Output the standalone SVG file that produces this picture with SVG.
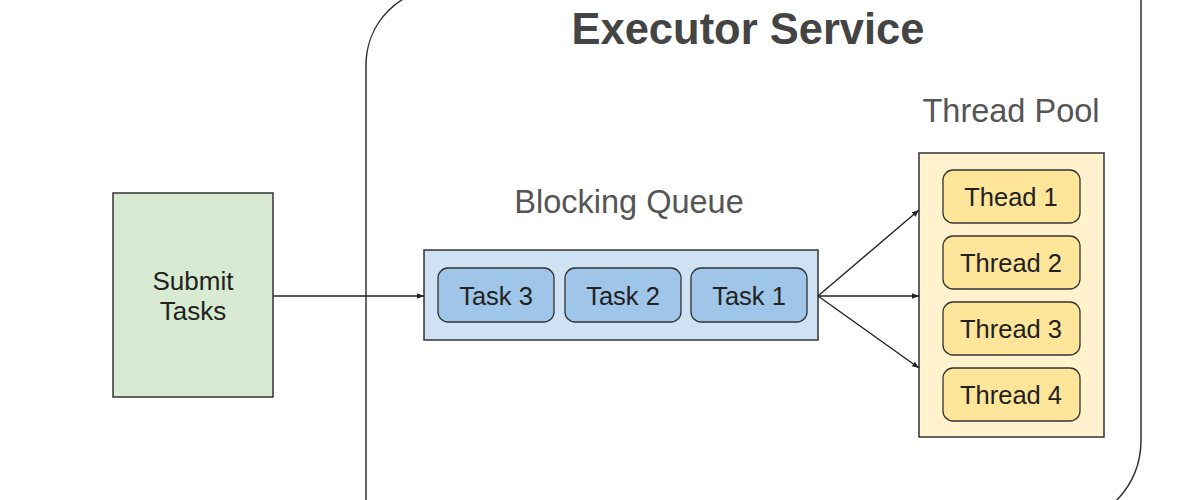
<svg xmlns="http://www.w3.org/2000/svg" width="1200" height="500" viewBox="0 0 1200 500">
<style>
text{font-family:"Liberation Sans",Arial,sans-serif;text-anchor:middle}
.lbl{font-size:25.5px;fill:#222}
.hdr{font-size:32.5px;fill:#555}
.box{stroke:#333;stroke-width:1.5}
.task{fill:#9fc5e8;stroke:#333;stroke-width:1.3}
.thr{fill:#ffe599;stroke:#333;stroke-width:1.3}
.conn{stroke:#222;stroke-width:1.4;fill:none;marker-end:url(#ah)}
</style>
<defs>
<marker id="ah" viewBox="0 0 10 10" refX="10" refY="5" markerWidth="7" markerHeight="7" markerUnits="userSpaceOnUse" orient="auto">
<path d="M0,1 L10,5 L0,9 z" fill="#222"/>
</marker>
</defs>
<rect width="1200" height="500" fill="#fff"/>
<g id="executor">
<path d="M366,510 V65 A77,77 0 0 1 443,-12 H1141 V440 A87,87 0 0 1 1117,500 L1110,510" fill="none" stroke="#333" stroke-width="1.5"/>
<text x="748" y="44" style="font-size:43.5px;font-weight:bold;fill:#444">Executor Service</text>
</g>
<g id="submit">
<rect class="box" x="113" y="193" width="160" height="204" fill="#d9ead3"/>
<text class="lbl" x="193" y="290" style="font-size:26px">Submit</text>
<text class="lbl" x="193" y="320" style="font-size:26px">Tasks</text>
</g>
<g id="queue">
<text class="hdr" x="629" y="213">Blocking Queue</text>
<rect class="box" x="424" y="250" width="394" height="90" fill="#cfe2f3"/>
<g id="task3"><rect class="task" x="438" y="268" width="116" height="54" rx="10"/><text class="lbl" x="496" y="305">Task 3</text></g>
<g id="task2"><rect class="task" x="565" y="268" width="116" height="54" rx="10"/><text class="lbl" x="623" y="305">Task 2</text></g>
<g id="task1"><rect class="task" x="691" y="268" width="116" height="54" rx="10"/><text class="lbl" x="749" y="305">Task 1</text></g>
</g>
<g id="pool">
<text class="hdr" x="1011" y="122">Thread Pool</text>
<rect class="box" x="919" y="153" width="185" height="284" fill="#fff2cc"/>
<g id="thread1"><rect class="thr" x="943" y="170" width="137" height="53" rx="10"/><text class="lbl" x="1011" y="206">Thead 1</text></g>
<g id="thread2"><rect class="thr" x="943" y="236" width="137" height="53" rx="10"/><text class="lbl" x="1011" y="272">Thread 2</text></g>
<g id="thread3"><rect class="thr" x="943" y="302" width="137" height="53" rx="10"/><text class="lbl" x="1011" y="338">Thread 3</text></g>
<g id="thread4"><rect class="thr" x="943" y="368" width="137" height="53" rx="10"/><text class="lbl" x="1011" y="404">Thread 4</text></g>
</g>
<g id="connectors">
<line class="conn" x1="273" y1="296" x2="424" y2="296"/>
<line class="conn" x1="818" y1="296" x2="919" y2="210"/>
<line class="conn" x1="818" y1="296" x2="919" y2="296"/>
<line class="conn" x1="818" y1="296" x2="919" y2="368"/>
</g>
</svg>
